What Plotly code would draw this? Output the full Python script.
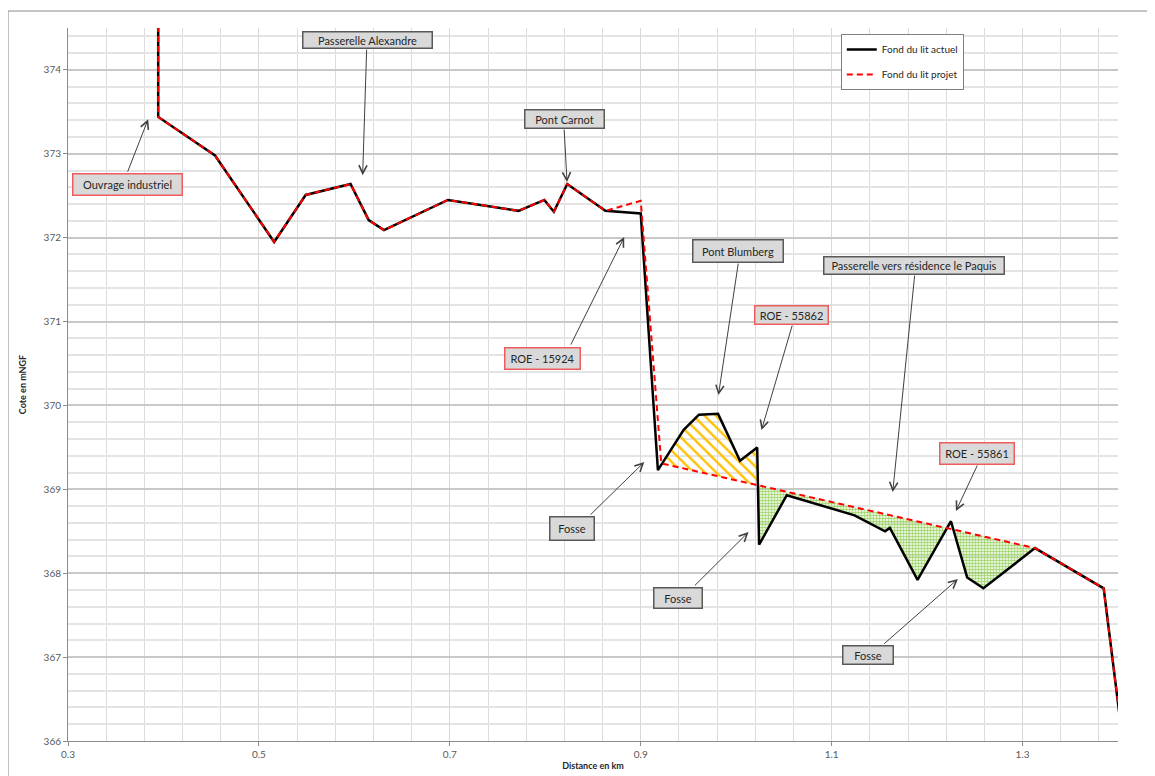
import numpy as np
import plotly.graph_objects as go

# ---------------- data ----------------
# Fond du lit actuel (current river bed)
actuel_km = [0.3945, 0.3945, 0.454, 0.516, 0.549, 0.596, 0.615, 0.631, 0.698, 0.772,
             0.799, 0.809, 0.823, 0.863, 0.900, 0.918, 0.945, 0.961, 0.981, 1.004,
             1.022, 1.024, 1.053, 1.089, 1.124, 1.156, 1.161, 1.190, 1.225, 1.242,
             1.259, 1.313, 1.385, 1.402]
actuel_cote = [375.0, 373.44, 372.98, 371.95, 372.51, 372.64, 372.21, 372.09, 372.45, 372.32,
               372.45, 372.31, 372.64, 372.32, 372.29, 369.23, 369.71, 369.89, 369.90, 369.34,
               369.50, 368.34, 368.93, 368.81, 368.69, 368.50, 368.54, 367.92, 368.62, 367.95,
               367.82, 368.30, 367.82, 366.27]

# Fond du lit projet (project river bed)
projet_km = [0.3945, 0.3945, 0.454, 0.516, 0.549, 0.596, 0.615, 0.631, 0.698, 0.772,
             0.799, 0.809, 0.823, 0.863, 0.900, 0.9215, 1.313, 1.385, 1.402]
projet_cote = [375.0, 373.44, 372.98, 371.95, 372.51, 372.64, 372.21, 372.09, 372.45, 372.32,
               372.45, 372.31, 372.64, 372.32, 372.44, 369.31, 368.30, 367.82, 366.27]

# Labels (text, box centre km, box centre cote, red border or not)
label_text = ["Ouvrage industriel", "Passerelle Alexandre", "Pont Carnot", "ROE - 15924",
              "Pont Blumberg", "ROE - 55862", "Passerelle vers résidence le Paquis",
              "ROE - 55861", "Fosse", "Fosse", "Fosse"]
label_km = [0.3619, 0.6139, 0.8197, 0.7966, 1.0018, 1.0580, 1.1866, 1.2528, 0.8276, 0.9388, 1.1383]
label_cote = [372.639, 374.361, 373.419, 370.565, 371.846, 371.083, 371.673, 369.433,
              368.539, 367.710, 367.031]
label_red = [True, False, False, True, False, True, False, True, False, False, False]
# arrows: tail (km, cote) -> tip (km, cote)
arrow_tail_km = [0.3619, 0.6129, 0.8197, 0.8260, 1.0024, 1.0591, 1.1871, 1.2533, 0.8459, 0.9551, 1.1535]
arrow_tail_cote = [372.770, 374.260, 373.306, 370.708, 371.709, 370.970, 371.566, 369.302,
                   368.682, 367.836, 367.144]
arrow_tip_km = [0.3840, 0.6087, 0.8228, 0.8827, 0.9814, 1.0265, 1.1640, 1.2302, 0.9037, 1.0129, 1.2323]
arrow_tip_cote = [373.413, 372.746, 372.663, 372.007, 370.124, 369.707, 368.968, 368.741,
                  369.325, 368.491, 367.931]

label_w = [110, 130, 80, 76, 91, 74, 181, 75, 45, 49, 51]
label_h = [22, 17, 19, 22, 23, 19, 18, 22, 24, 21, 19]

# ---------------- fill geometry (between the two beds) ----------------
ax_ = np.array(actuel_km)
ay_ = np.array(actuel_cote)
px_ = np.array(projet_km)
py_ = np.array(projet_cote)


def region(x0, x1):
    xs = np.unique(np.concatenate([ax_, px_, [x0, x1]]))
    xs = xs[(xs >= x0) & (xs <= x1)]
    a = np.interp(xs, ax_, ay_)
    p = np.interp(xs, px_, py_)
    d = a - p
    X = [xs[0]]
    for i in range(len(xs) - 1):
        if d[i] * d[i + 1] < 0:
            t = d[i] / (d[i] - d[i + 1])
            X.append(xs[i] + t * (xs[i + 1] - xs[i]))
        X.append(xs[i + 1])
    X = np.array(X)
    return X, np.interp(X, ax_, ay_), np.interp(X, px_, py_)


Xy, Ay, Py = region(0.9215, 1.10)
up_y = np.maximum(Ay, Py)
yel_x = list(Xy) + list(Xy[::-1])
yel_y = list(up_y) + list(Py[::-1])

Xg, Ag, Pg = region(1.0, 1.313)
lo_g = np.minimum(Ag, Pg)
grn_x = list(Xg) + list(Xg[::-1])
grn_y = list(Pg) + list(lo_g[::-1])

FONT = "Lato"

fig = go.Figure()

fig.add_trace(go.Scatter(
    x=yel_x, y=yel_y, mode="lines", fill="toself", line=dict(width=0),
    fillcolor="rgba(0,0,0,0)",
    fillpattern=dict(shape="\\", fgcolor="#FFC000", bgcolor="rgba(255,255,255,0)",
                     size=8, solidity=0.3, fillmode="replace"),
    showlegend=False, hoverinfo="skip"))
fig.add_trace(go.Scatter(
    x=grn_x, y=grn_y, mode="lines", fill="toself", line=dict(width=0),
    fillcolor="rgba(0,0,0,0)",
    fillpattern=dict(shape=".", fgcolor="#9CD466", bgcolor="rgba(255,255,255,0)",
                     size=3, solidity=0.55, fillmode="replace"),
    showlegend=False, hoverinfo="skip"))

fig.add_trace(go.Scatter(
    x=actuel_km, y=actuel_cote, mode="lines", name="Fond du lit actuel",
    line=dict(color="black", width=2.5), legendgroup="a"))
fig.add_trace(go.Scatter(
    x=projet_km, y=projet_cote, mode="lines", name="Fond du lit projet",
    line=dict(color="#FF0000", width=2, dash="6px,4px"), legendgroup="p"))

# label boxes
for t, xk, yc, red, w, h in zip(label_text, label_km, label_cote, label_red, label_w, label_h):
    fig.add_annotation(
        x=xk, y=yc, xref="x", yref="y", text=t, showarrow=False,
        xanchor="center", yanchor="middle", width=w - 2, height=h - 2,
        bgcolor="#D9D9D9", bordercolor="#EE5C5C" if red else "#595959",
        borderwidth=1.5, borderpad=0, align="center", valign="middle",
        font=dict(family=FONT, size=11, color="#262626"))

# arrows
for tx, ty, hx, hy in zip(arrow_tail_km, arrow_tail_cote, arrow_tip_km, arrow_tip_cote):
    fig.add_annotation(
        x=hx, y=hy, ax=tx, ay=ty, xref="x", yref="y", axref="x", ayref="y",
        text="", showarrow=True, arrowhead=5, arrowsize=1.6, arrowwidth=1,
        arrowcolor="#404040", standoff=0, startstandoff=0)

# outer chart frame
fig.add_shape(type="rect", xref="paper", yref="paper",
              x0=-0.0571, x1=1.04, y0=-0.06, y1=1.0238,
              line=dict(color="#8C8C8C", width=1), fillcolor="rgba(0,0,0,0)", layer="below")

fig.update_layout(
    width=1147, height=768,
    margin=dict(l=60, r=37, t=20, b=35),
    paper_bgcolor="white", plot_bgcolor="white",
    font=dict(family=FONT, size=10, color="#595959"),
    legend=dict(x=0.736, y=0.9916, xanchor="left", yanchor="top",
                bgcolor="white", bordercolor="#7F7F7F", borderwidth=1,
                font=dict(family=FONT, size=10, color="#262626"),
                tracegroupgap=6, itemwidth=30),
    showlegend=True,
)

fig.update_xaxes(
    range=[0.3, 1.4], tick0=0.3, dtick=0.2, tickformat=".1f", automargin=False,
    showgrid=True, gridcolor="#D9D9D9", gridwidth=1,
    minor=dict(dtick=0.04, tick0=0.3, showgrid=True, gridcolor="#DCDCDC", gridwidth=1),
    showline=True, linecolor="#8C8C8C", linewidth=1,
    ticks="outside", ticklen=4, tickcolor="#8C8C8C",
    tickfont=dict(family=FONT, size=10, color="#595959"),
    title=dict(text="<b>Distance en km</b>", font=dict(family=FONT, size=9, color="#262626"),
               standoff=3),
    zeroline=False)

fig.update_yaxes(
    range=[366, 374.5], tick0=366, dtick=1, automargin=False,
    showgrid=True, gridcolor="#C8C8C8", gridwidth=1.5,
    minor=dict(dtick=0.2, tick0=366, showgrid=True, gridcolor="#E4E4E4", gridwidth=1.5),
    showline=True, linecolor="#8C8C8C", linewidth=1,
    ticks="outside", ticklen=4, tickcolor="#8C8C8C",
    tickfont=dict(family=FONT, size=10, color="#595959"),
    title=dict(text="<b>Cote en mNGF</b>", font=dict(family=FONT, size=9, color="#262626"),
               standoff=15),
    zeroline=False)

fig.write_html("out.html")
